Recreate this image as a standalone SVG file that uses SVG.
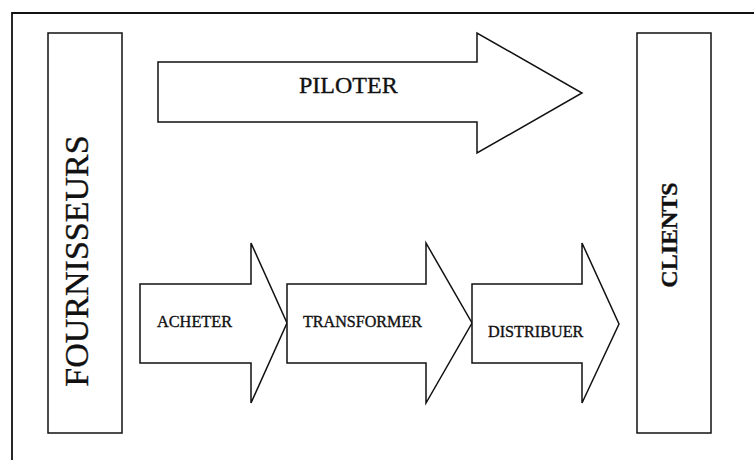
<svg xmlns="http://www.w3.org/2000/svg" width="754" height="460" viewBox="0 0 754 460">
<style>
.box{fill:#fff;stroke:#111;stroke-width:1.5}
.arrow{fill:#fff;stroke:#111;stroke-width:1.5;stroke-linejoin:miter}
.frame{fill:none;stroke:#111;stroke-width:1.8}
.t{font-family:"Liberation Serif","Times New Roman",serif;fill:#111;stroke:#111;stroke-width:0.35}
</style>
<rect width="754" height="460" fill="#fff"/>
<g id="frame">
<polyline class="frame" points="12,460 12,13 754,13"/>
</g>
<g id="fournisseurs">
<rect class="box" x="48" y="33" width="74" height="400"/>
<text class="t" transform="translate(88,261) rotate(-90)" text-anchor="middle" font-size="34">FOURNISSEURS</text>
</g>
<g id="clients">
<rect class="box" x="637" y="33" width="74" height="400"/>
<text class="t" transform="translate(677,235) rotate(-90)" text-anchor="middle" font-size="24" font-weight="bold">CLIENTS</text>
</g>
<g id="piloter">
<polygon class="arrow" points="158,62 477,62 477,33 582,93 477,153 477,122 158,122"/>
<text class="t" x="299" y="93" font-size="24">PILOTER</text>
</g>
<g id="acheter">
<polygon class="arrow" points="140,284 251,284 251,243 287,323 251,403 251,363 140,363"/>
<text class="t" x="157" y="327" font-size="16.3">ACHETER</text>
</g>
<g id="transformer">
<polygon class="arrow" points="287,284 426,284 426,243 472,323 426,403 426,363 287,363"/>
<text class="t" x="303" y="327" font-size="16.1">TRANSFORMER</text>
</g>
<g id="distribuer">
<polygon class="arrow" points="472,284 582,284 582,243 619,324 582,403 582,363 472,363"/>
<text class="t" x="488" y="337" font-size="16.2">DISTRIBUER</text>
</g>
<g id="connectors"></g>
</svg>
